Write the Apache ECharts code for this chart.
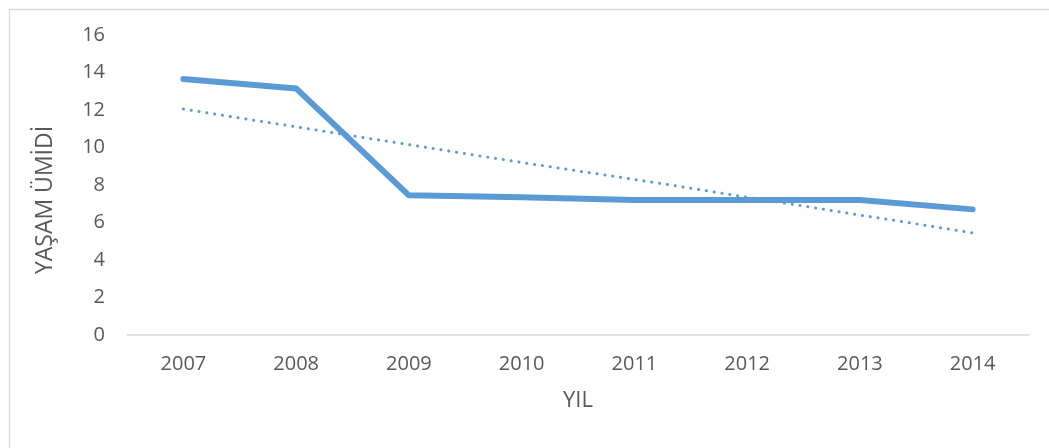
<!DOCTYPE html>
<html>
<head>
<meta charset="utf-8">
<script src="https://cdn.jsdelivr.net/npm/echarts@6/dist/echarts.min.js"></script>
<style>html,body{margin:0;padding:0;background:#fff}#c{width:1049px;height:448px}</style>
</head>
<body>
<div id="c"></div>
<script>
const years = ['2007','2008','2009','2010','2011','2012','2013','2014'];
const lifeExpectancy = [13.65, 13.15, 7.45, 7.35, 7.2, 7.2, 7.2, 6.7];
const trendValues = [12.05, 11.1, 10.15, 9.2, 8.3, 7.35, 6.4, 5.45];
const yTicks = {min: 0, max: 16, step: 2};
const xTitle = 'YIL';
const yTitle = 'YAŞAM ÜMİDİ';

const chart = echarts.init(document.getElementById('c'));
const font = '"Open Sans", "Liberation Sans", sans-serif';
chart.setOption({
  animation: false,
  backgroundColor: '#fff',
  graphic: [{
    type: 'rect', left: 7, top: 7,
    shape: {width: 1100, height: 500},
    style: {fill: 'none', stroke: '#d9d9d9', lineWidth: 1.3},
    silent: true, z: -1
  }, {
    type: 'text', x: 45, y: 200, rotation: Math.PI / 2,
    style: {text: yTitle, fill: '#595959', fontSize: 23, fontFamily: font,
            align: 'center', verticalAlign: 'middle'},
    silent: true
  }],
  grid: {left: 127, right: 20, top: 35, bottom: 113},
  xAxis: {
    type: 'category', data: years, boundaryGap: true,
    name: xTitle, nameLocation: 'middle', nameGap: 55,
    nameTextStyle: {color: '#595959', fontSize: 22, fontFamily: font},
    axisLine: {lineStyle: {color: '#d9d9d9', width: 1.5}},
    axisTick: {show: false},
    axisLabel: {color: '#595959', fontSize: 20, fontFamily: font, margin: 19}
  },
  yAxis: {
    type: 'value', min: yTicks.min, max: yTicks.max, interval: yTicks.step,
    axisLine: {show: false}, axisTick: {show: false},
    splitLine: {show: false},
    axisLabel: {color: '#595959', fontSize: 20, fontFamily: font, margin: 22}
  },
  series: [{
    type: 'line', data: lifeExpectancy, symbol: 'none',
    lineStyle: {color: '#5b9bd5', width: 6, cap: 'round', join: 'round'}
  }, {
    type: 'line', data: trendValues, symbol: 'none',
    lineStyle: {color: '#5b9bd5', width: 3, type: [0.1, 7.8], cap: 'round'}
  }]
});
</script>
</body>
</html>
